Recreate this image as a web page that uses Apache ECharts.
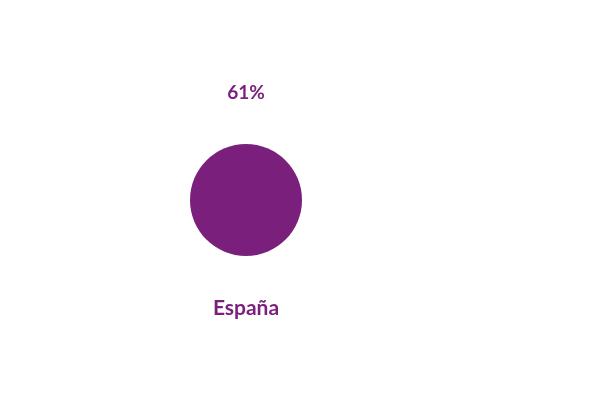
<!DOCTYPE html>
<html>
<head>
<meta charset="utf-8">
<script src="https://cdn.jsdelivr.net/npm/echarts@6/dist/echarts.min.js"></script>
<style>html,body{margin:0;padding:0;background:#fff}#c{width:600px;height:400px}</style>
</head>
<body>
<div id="c"></div>
<script>
const categories = ["España"];
const values = [61];
const labels = ["61%"];

const chart = echarts.init(document.getElementById('c'), null, {renderer: 'canvas'});
const color = '#7A1F7C';
chart.setOption({
  animation: false,
  grid: {left: 190, width: 112, top: 100, height: 200},
  xAxis: {
    type: 'category', data: categories,
    axisLine: {show: false}, axisTick: {show: false}, splitLine: {show: false},
    axisLabel: {margin: -2, color: color, fontFamily: 'Lato', fontWeight: 'bold', fontSize: 21}
  },
  yAxis: {type: 'value', min: 0, max: 122, show: false},
  series: [{
    type: 'scatter',
    data: values,
    symbolSize: 112,
    itemStyle: {color: color, opacity: 1},
    label: {
      show: true, position: 'top', distance: 42,
      formatter: p => labels[p.dataIndex],
      color: color, fontFamily: 'Lato', fontWeight: 'bold', fontSize: 19
    }
  }]
});
</script>
</body>
</html>
